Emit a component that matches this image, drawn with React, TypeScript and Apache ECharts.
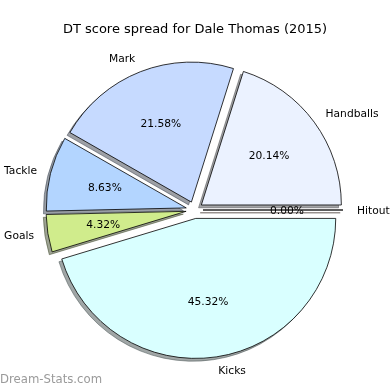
import React, { useEffect, useRef } from "react";
import * as echarts from "echarts";

const categories = ["Hitout", "Handballs", "Mark", "Tackle", "Goals", "Kicks"];
const values = [0, 28, 30, 12, 6, 63];
const sliceColors = ["#FFE4C4", "#EBF2FF", "#C6DAFF", "#B3D5FF", "#D0EC8C", "#D9FFFF"];
const chartTitle = "DT score spread for Dale Thomas (2015)";
const watermark = "Dream-Stats.com";

function shadowOf(hex: string): string {
  const r = parseInt(hex.slice(1, 3), 16);
  const g = parseInt(hex.slice(3, 5), 16);
  const b = parseInt(hex.slice(5, 7), 16);
  return `rgba(${Math.round(r * 0.3)},${Math.round(g * 0.3)},${Math.round(b * 0.3)},0.5)`;
}

export default function App() {
  const ref = useRef<HTMLDivElement>(null);
  useEffect(() => {
    const chart = echarts.init(ref.current!, null, { renderer: "svg" });
    const total = values.reduce((a, b) => a + b, 0);
    const cx = 194.5;
    const cy = 210;
    const R = 140;
    const explode = 8.5;
    const sh = 2.8;
    const font = "DejaVu Sans";

    const base: any = {
      type: "pie",
      clockwise: false,
      startAngle: 0,
      selectedMode: "multiple",
      selectedOffset: explode,
      avoidLabelOverlap: false,
      minShowLabelAngle: 0,
      emphasis: { disabled: true },
      animation: false,
    };

    chart.setOption({
      animation: false,
      title: {
        text: chartTitle,
        left: "center",
        top: 17,
        textStyle: { fontFamily: font, fontSize: 13, fontWeight: "normal", color: "#000" },
      },
      graphic: [
        {
          type: "text",
          left: 0,
          top: 373,
          style: { text: watermark, fill: "#9a9a9a", font: `11.7px '${font}'` },
        },
      ],
      series: [
        {
          ...base,
          name: "shadow",
          silent: true,
          z: 1,
          center: [cx - sh, cy + sh],
          radius: [0, R],
          label: { show: false },
          labelLine: { show: false },
          data: categories.map((c, i) => ({
            name: c,
            value: values[i],
            selected: true,
            itemStyle: { color: shadowOf(sliceColors[i]), borderColor: shadowOf(sliceColors[i]), borderWidth: 1 },
          })),
        },
        {
          ...base,
          name: "slices",
          z: 2,
          center: [cx, cy],
          radius: [0, R],
          label: {
            show: true,
            position: "outside",
            formatter: "{b}",
            fontFamily: font,
            fontSize: 10.7,
            color: "#000",
            distanceToLabelLine: 0,
          },
          labelLine: { show: false, length: R * 0.1, length2: 0 },
          data: categories.map((c, i) => ({
            name: c,
            value: values[i],
            selected: true,
            itemStyle: { color: sliceColors[i], borderColor: "#000", borderWidth: 0.8 },
          })),
        },
        {
          ...base,
          name: "pct",
          silent: true,
          z: 3,
          center: [cx, cy],
          radius: [0, 2 * (0.6 * R - 3)],
          itemStyle: { color: "rgba(0,0,0,0)", borderWidth: 0 },
          label: {
            show: true,
            position: "inside",
            formatter: (p: any) => ((p.value / total) * 100).toFixed(2) + "%",
            fontFamily: font,
            fontSize: 10.7,
            color: "#000",
          },
          labelLine: { show: false },
          data: categories.map((c, i) => ({ name: c, value: values[i], selected: true })),
        },
      ],
    });
    return () => chart.dispose();
  }, []);
  return <div ref={ref} style={{ position: "fixed", left: 0, top: 0, width: 390, height: 390 }} />;
}
